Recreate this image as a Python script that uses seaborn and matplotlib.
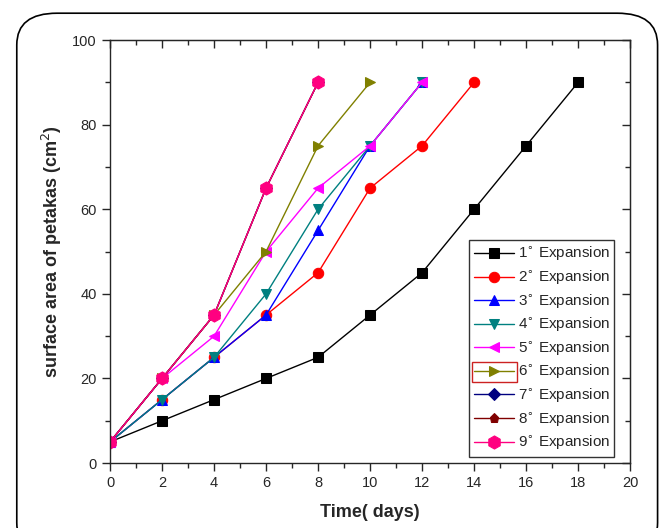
import pandas as pd
import matplotlib.pyplot as plt
import seaborn as sns
from matplotlib.patches import FancyBboxPatch, Rectangle
from matplotlib.ticker import MultipleLocator

# datos
dias = [0, 2, 4, 6, 8, 10, 12, 14, 16, 18]
exp1 = [5, 10, 15, 20, 25, 35, 45, 60, 75, 90]
exp2 = [5, 15, 25, 35, 45, 65, 75, 90]
exp3 = [5, 15, 25, 35, 55, 75, 90]
exp4 = [5, 15, 25, 40, 60, 75, 90]
exp5 = [5, 20, 30, 50, 65, 75, 90]
exp6 = [5, 20, 35, 50, 75, 90]
exp7 = [5, 20, 35, 65, 90]
exp8 = [5, 20, 35, 65, 90]
exp9 = [5, 20, 35, 65, 90]

series = [exp1, exp2, exp3, exp4, exp5, exp6, exp7, exp8, exp9]
nombres = [f'{i}$^{{\\circ}}$ Expansion' for i in range(1, 10)]
colores = ['#000000', '#FF0000', '#0000FF', '#008080', '#FF00FF',
           '#808000', '#000080', '#800000', '#FF0080']
marcadores = ['s', 'o', '^', 'v', '<', '>', 'D', 'p', 'h']
tamanos = [7.5, 7.5, 7.5, 7.5, 7.5, 7.5, 6, 6.5, 9.5]

filas = []
for nom, vals in zip(nombres, series):
    for d, v in zip(dias, vals):
        filas.append({'dias': d, 'area': v, 'serie': nom})
df = pd.DataFrame(filas)

sns.set_style('ticks')
plt.rcParams['font.family'] = ['Liberation Sans', 'DejaVu Sans']

fig = plt.figure(figsize=(6.71, 5.28), dpi=100)
ax = fig.add_axes([0.164, 0.123, 0.775, 0.801])

for nom, col, mk, ms in zip(nombres, colores, marcadores, tamanos):
    sub = df[df['serie'] == nom]
    sns.lineplot(data=sub, x='dias', y='area', ax=ax, color=col, marker=mk,
                 markersize=ms, markeredgecolor=col, linewidth=1, label=nom)

ax.set_xlim(0, 20)
ax.set_ylim(0, 100)
ax.xaxis.set_major_locator(MultipleLocator(2))
ax.xaxis.set_minor_locator(MultipleLocator(1))
ax.yaxis.set_major_locator(MultipleLocator(20))
ax.yaxis.set_minor_locator(MultipleLocator(10))
ax.tick_params(which='both', direction='out', labelsize=10.5, width=1)
ax.tick_params(which='major', length=6)
ax.tick_params(which='minor', length=3.5)
for s in ax.spines.values():
    s.set_linewidth(1)

# ticks hacia dentro arriba y a la derecha (estilo Origin)
arriba = ax.secondary_xaxis('top')
arriba.xaxis.set_major_locator(MultipleLocator(2))
arriba.xaxis.set_minor_locator(MultipleLocator(1))
arriba.tick_params(which='both', direction='in', labeltop=False, width=1)
arriba.tick_params(which='major', length=6)
arriba.tick_params(which='minor', length=3.5)
derecha = ax.secondary_yaxis('right')
derecha.yaxis.set_major_locator(MultipleLocator(20))
derecha.yaxis.set_minor_locator(MultipleLocator(10))
derecha.tick_params(which='both', direction='in', labelright=False, width=1)
derecha.tick_params(which='major', length=6)
derecha.tick_params(which='minor', length=3.5)

ax.set_xlabel('Time( days)', fontsize=13, fontweight='bold', labelpad=10)
ax.set_ylabel('surface area of petakas (cm$^2$)', fontsize=13, fontweight='bold', labelpad=6)

leg = ax.legend(loc='lower right', bbox_to_anchor=(0.97, 0.015),
                fontsize=11, frameon=True, fancybox=False, edgecolor='black',
                handlelength=2.6, handletextpad=0.25, labelspacing=0.34,
                borderpad=0.3, borderaxespad=0, markerscale=1.0)
leg.get_frame().set_linewidth(1)

# recuadro rojo de seleccion alrededor del simbolo 6
fig.canvas.draw()
bb_txt = leg.get_texts()[5].get_window_extent()
bb_leg = leg.get_frame().get_window_extent()
x0 = bb_leg.x0 + 3
ancho = bb_txt.x0 - x0 - 1
caja = Rectangle((x0 / fig.bbox.width, (bb_txt.y0 - 1) / fig.bbox.height),
                 ancho / fig.bbox.width, (bb_txt.height + 2) / fig.bbox.height,
                 transform=fig.transFigure, fill=False, edgecolor='#CC2222', linewidth=1)
fig.patches.append(caja)

# marco redondeado alrededor de la figura
marco = FancyBboxPatch((0.025, -0.05), 0.955, 1.025, transform=fig.transFigure,
                       boxstyle='round,pad=0,rounding_size=0.06', fill=False,
                       edgecolor='black', linewidth=1.2)
fig.patches.append(marco)

fig.savefig('out.png', dpi=100)
plt.close()
